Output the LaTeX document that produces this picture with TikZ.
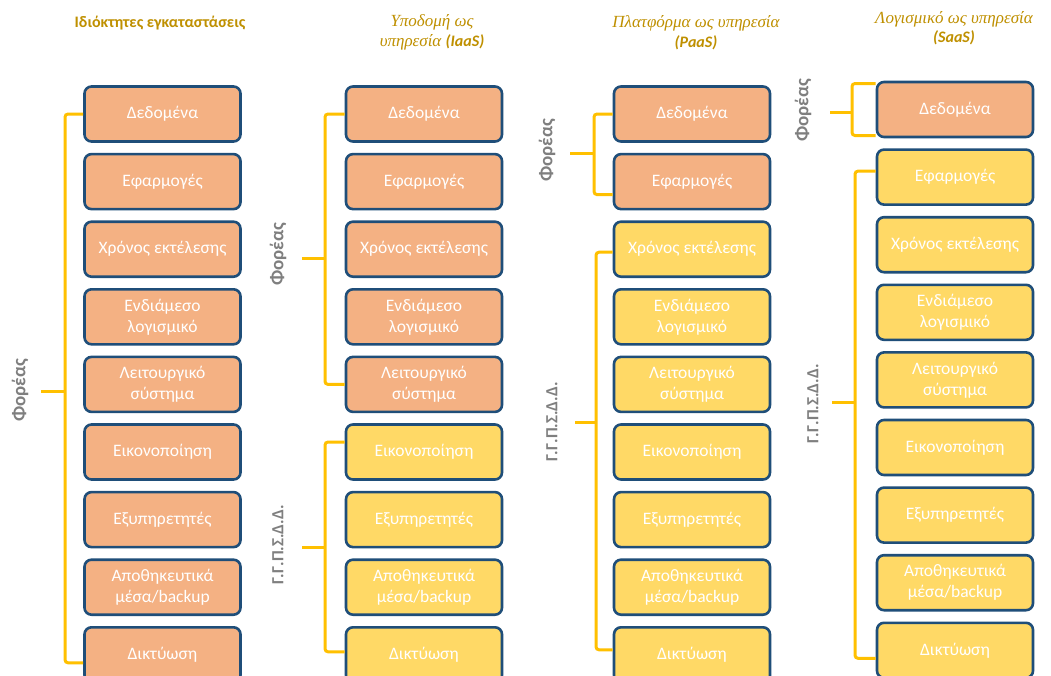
\documentclass[tikz,border=0pt]{standalone}
\usepackage{fontspec}
\setmainfont{Carlito}
\newfontfamily\ttlserif{Liberation Serif}
\definecolor{orangebox}{HTML}{F4B183}
\definecolor{yellowbox}{HTML}{FFD966}
\definecolor{boxline}{HTML}{1F4E79}
\definecolor{bracketcol}{HTML}{FFC000}
\definecolor{ttlcol}{HTML}{BF9000}
\definecolor{lblgray}{HTML}{7F7F7F}
\tikzset{
 layer/.style={draw=boxline, line width=2.6pt, rounded corners=7pt, minimum width=156pt, minimum height=55pt, inner sep=0pt, text=white, font=\fontsize{17.5}{21}\selectfont, align=center},
 own/.style={layer, fill=orangebox},
 prov/.style={layer, fill=yellowbox},
 brk/.style={draw=bracketcol, line width=3pt, rounded corners=3pt},
 lbl/.style={rotate=90, text=lblgray, font=\fontsize{19}{22}\selectfont\bfseries, inner sep=0pt},
 lblg/.style={lbl, font=\fontsize{17}{20}\selectfont\bfseries},
 ttlA/.style={text=ttlcol, font=\fontsize{16}{19}\selectfont\bfseries, align=center},
 ttlB/.style={text=ttlcol, font=\fontsize{17}{19.5}\selectfont\ttlserif\itshape, align=center},
}
\newcommand{\lat}[1]{{\normalfont\fontsize{16}{19.5}\selectfont\bfseries\itshape #1}}
\begin{document}
\begin{tikzpicture}[x=1pt,y=-1pt]
\clip (0,0) rectangle (1051,675);
\fill[white] (0,0) rectangle (1051,675);
% titles
\node[ttlA] (t1) at (160,23) {Ιδιόκτητες εγκαταστάσεις};
\node[ttlB] (t2) at (432,32.5) {Υποδομή ως\\υπηρεσία \lat{(IaaS)}};
\node[ttlB] (t3) at (696,32.5) {Πλατφόρμα ως υπηρεσία\\\lat{(PaaS)}};
\node[ttlB] (t4) at (954,28) {Λογισμικό ως υπηρεσία\\\lat{(SaaS)}};
% layers
\foreach \c/\xc/\yo/\k in {1/162.5/114/9, 2/424/114/5, 3/692/114/2, 4/955/109.5/1}{
  \foreach \t [count=\i] in {Δεδομένα, Εφαρμογές, Χρόνος εκτέλεσης, {Ενδιάμεσο\\λογισμικό}, {Λειτουργικό\\σύστημα}, Εικονοποίηση, Εξυπηρετητές, {Αποθηκευτικά\\μέσα/backup}, Δικτύωση}{
    \ifnum\i>\k\relax\def\st{prov}\else\def\st{own}\fi
    \node[\st] (c\c-\i) at (\xc,{\yo+67.6*(\i-1)}) {\t};
  }
}
% labels
\node[lbl] (f1) at (20,390) {Φορέας};
\node[lbl] (f2) at (278,254) {Φορέας};
\node[lblg] (g2) at (278,545) {Γ.Γ.Π.Σ.Δ.Δ.};
\node[lbl] (f3) at (547,150) {Φορέας};
\node[lblg] (g3) at (552,422) {Γ.Γ.Π.Σ.Δ.Δ.};
\node[lbl] (f4) at (803,110) {Φορέας};
\node[lblg] (g4) at (813,404) {Γ.Γ.Π.Σ.Δ.Δ.};
% bracket coordinates
\coordinate (v1) at (65,391);   \coordinate (s1) at (41,391);
\coordinate (v2a) at (325,258); \coordinate (s2a) at (302,258);
\coordinate (v2b) at (325,547); \coordinate (s2b) at (302,547);
\coordinate (v3a) at (594,153); \coordinate (s3a) at (570,153);
\coordinate (v3b) at (596,422); \coordinate (s3b) at (575,422);
\coordinate (v4a) at (852,112); \coordinate (s4a) at (830,112);
\coordinate (v4b) at (855,402); \coordinate (s4b) at (832,402);
% brackets
\draw[brk] (c1-1.west) -| (v1) |- ([yshift=-8pt]c1-9.west);
\draw[brk] (s1) -- (v1);
\draw[brk] (c2-1.west) -| (v2a) |- (c2-5.west);
\draw[brk] (s2a) -- (v2a);
\draw[brk] ([yshift=10pt]c2-6.west) -| (v2b) |- ([yshift=3pt]c2-9.west);
\draw[brk] (s2b) -- (v2b);
\draw[brk] (c3-1.west) -| (v3a) |- ([yshift=-13pt]c3-2.west);
\draw[brk] (s3a) -- (v3a);
\draw[brk] ([yshift=-3pt]c3-3.west) -| (v3b) |- ([yshift=5pt]c3-9.west);
\draw[brk] (s3b) -- (v3b);
\draw[brk] ([yshift=26pt]c4-1.west) -| (v4a) |- ([yshift=-26pt]c4-1.west);
\draw[brk] (s4a) -- (v4a);
\draw[brk] ([yshift=6pt]c4-2.west) -| (v4b) |- ([yshift=-8pt]c4-9.west);
\draw[brk] (s4b) -- (v4b);
\end{tikzpicture}
\end{document}
